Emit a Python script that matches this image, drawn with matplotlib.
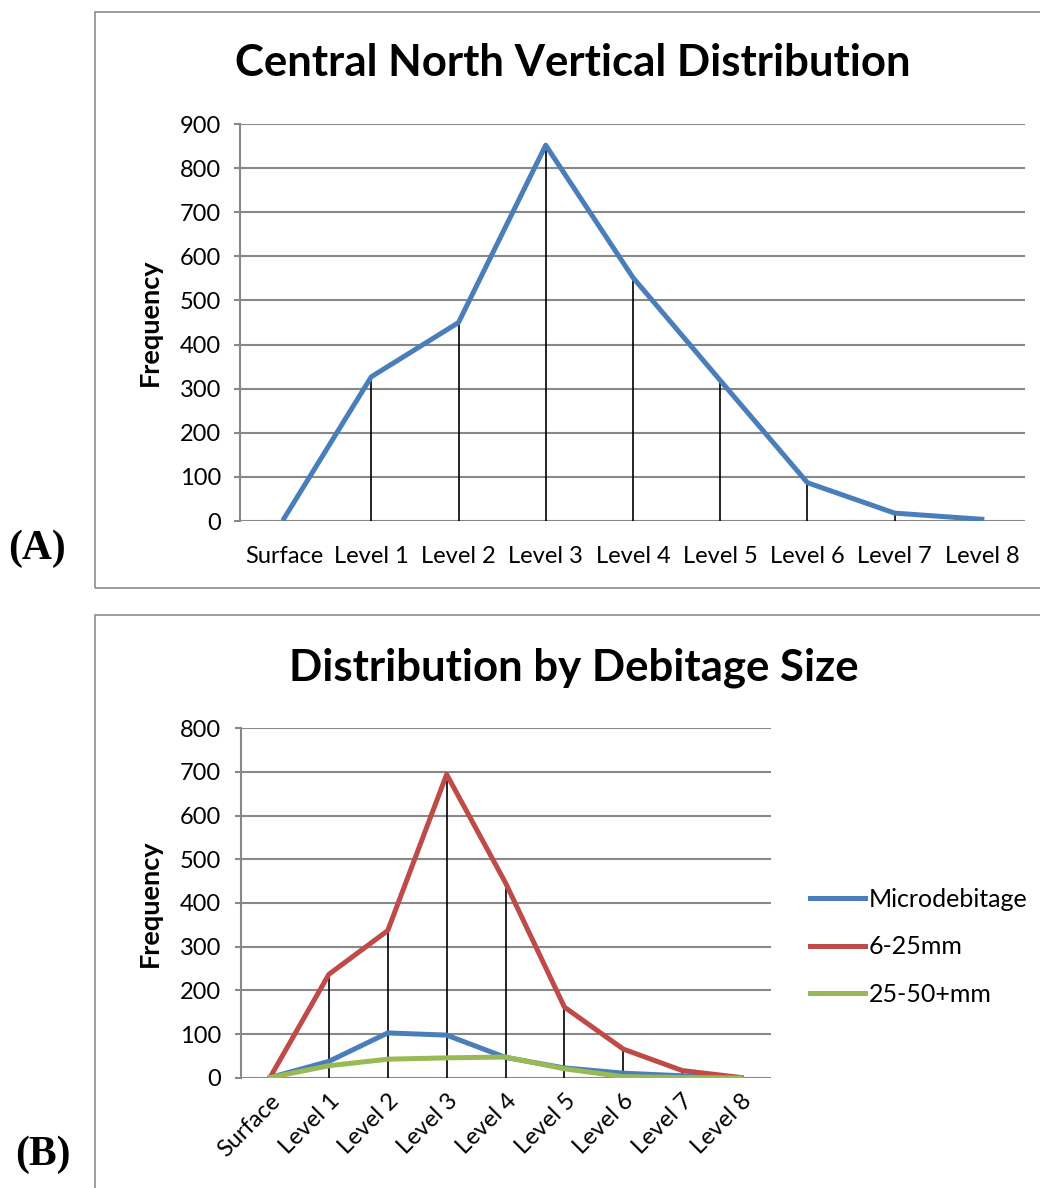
import matplotlib.pyplot as plt
from matplotlib.patches import Rectangle
import numpy as np

plt.rcParams['font.family'] = ['Lato', 'DejaVu Sans']

levels = ['Surface', 'Level 1', 'Level 2', 'Level 3', 'Level 4',
          'Level 5', 'Level 6', 'Level 7', 'Level 8']

# panel A: all debitage
total = [6, 327, 450, 852, 552, 319, 87, 18, 4]

# panel B: by size class
micro = [1, 38, 103, 98, 47, 23, 11, 5, 1]
mm6_25 = [1, 237, 337, 694, 446, 162, 66, 17, 1]
mm25_50 = [1, 28, 43, 46, 48, 21, 3, 1, 0]

blue = '#4a7ebb'
red = '#be4b48'
green = '#98b954'
grid_c = '#888888'

W, H = 1040, 1188
fig = plt.figure(figsize=(W / 100, H / 100), dpi=100)

# panel frames
for (x0, y0, x1, y1) in [(95, 12, 1045, 588), (95, 615, 1045, 1195)]:
    fig.patches.append(Rectangle((x0 / W, 1 - y1 / H),
                                 (x1 - x0) / W, (y1 - y0) / H,
                                 transform=fig.transFigure, fill=False,
                                 edgecolor='#8c8c8c', lw=1.2, clip_on=False))


def style_axes(ax, ymax, step):
    ax.set_xlim(-0.5, len(levels) - 0.5)
    ax.set_ylim(0, ymax)
    ax.set_yticks(np.arange(0, ymax + 1, step))
    ax.yaxis.grid(True, color=grid_c, lw=1.5)
    ax.set_axisbelow(True)
    for s in ['top', 'right', 'bottom']:
        ax.spines[s].set_visible(False)
    ax.spines['left'].set_color(grid_c)
    ax.spines['left'].set_linewidth(1.5)
    ax.tick_params(axis='y', length=4, color=grid_c, width=1.5,
                   labelsize=17, pad=10)
    ax.tick_params(axis='x', length=0, labelsize=17, pad=18)
    ax.set_ylabel('Frequency', fontsize=19.5, fontweight='bold')


x = np.arange(len(levels))

# (A)
ax1 = fig.add_axes([0.2312, 0.5614, 0.7548, 0.3342])
style_axes(ax1, 900, 100)
ax1.vlines(x, 0, total, color='black', lw=1.2, zorder=2)
ax1.plot(x, total, color=blue, lw=3.6, zorder=3)
ax1.set_xticks(x)
ax1.set_xticklabels(levels)
ax1.yaxis.set_label_coords(-0.1, 0.5)
fig.text(573 / W, 1 - 63 / H, 'Central North Vertical Distribution',
         fontsize=31.5, fontweight='bold', ha='center', va='center')

# (B)
ax2 = fig.add_axes([0.2313, 0.0926, 0.5096, 0.2946])
style_axes(ax2, 800, 100)
top = np.max([micro, mm6_25, mm25_50], axis=0)
ax2.vlines(x, 0, top, color='black', lw=1.2, zorder=2)
ax2.plot(x, micro, color=blue, lw=3.6, zorder=3, label='Microdebitage')
ax2.plot(x, mm6_25, color=red, lw=3.6, zorder=3, label='6-25mm')
ax2.plot(x, mm25_50, color=green, lw=3.6, zorder=4, label='25-50+mm')
ax2.set_xticks(x)
ax2.set_xticklabels(levels, rotation=45, ha='right', rotation_mode='anchor')
ax2.tick_params(axis='x', pad=9)
ax2.yaxis.set_label_coords(-0.148, 0.5)
fig.text(574 / W, 1 - 668 / H, 'Distribution by Debitage Size',
         fontsize=31.5, fontweight='bold', ha='center', va='center')
fig.legend(*ax2.get_legend_handles_labels(), loc='upper left',
           bbox_to_anchor=(810 / W, 1 - 888 / H), frameon=False,
           borderpad=0, borderaxespad=0, fontsize=18, handlelength=2.2,
           labelspacing=0.97, handletextpad=0.15)

fig.text(8 / W, 1 - 549 / H, '(A)', family='Liberation Serif',
         fontsize=30, fontweight='bold', va='center', ha='left')
fig.text(15 / W, 1 - 1155 / H, '(B)', family='Liberation Serif',
         fontsize=30, fontweight='bold', va='center', ha='left')

fig.savefig('out.png', dpi=100)
